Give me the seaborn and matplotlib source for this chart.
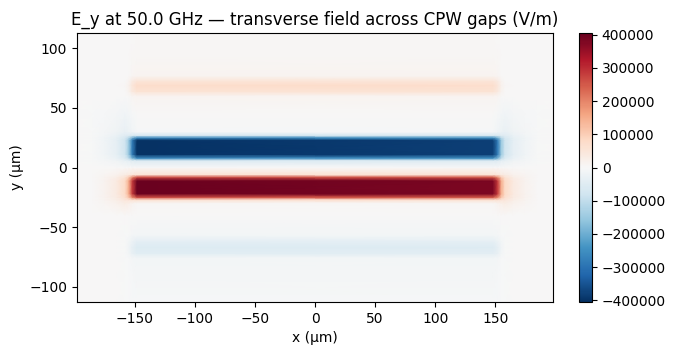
import numpy as np
import matplotlib
matplotlib.use("Agg")
import matplotlib.pyplot as plt
import seaborn as sns

# sample positions across the guide (y, um) and along it (x, um)
y_um = [-113, -90, -76, -72, -67, -62, -57, -40, -30, -27, -25, -22, -11, -8, -6,
        0, 6, 8, 11, 23, 25, 27, 30, 45, 60, 64, 69, 73, 77, 95, 113]
# E_y across the gaps inside the line (V/m)
ey_core = [-6000, -8000, -12000, -45000, -55000, -38000, -10000, 0, 5000, 70000, 260000,
           400000, 400000, 260000, 60000, 0, -60000, -260000, -400000, -400000,
           -260000, -70000, -5000, 0, 12000, 60000, 75000, 50000, 12000, 6000, 4000]
# fringing field around the line ends (V/m)
ey_fringe = [0, 0, 0, 0, 0, 0, 0, 0, 30000, 45000, 55000, 60000, 60000, 45000, 30000,
             0, -30000, -45000, -60000, -60000, -55000, -45000, -30000, -15000, 0, 0, 0, 0, 0, 0, 0]

x_um = [-200, -185, -175, -165, -158, -155, -152, -148, 148, 152, 155, 158, 165, 175, 185, 200]
env_core = [0, 0, 0, 0, 0.05, 0.25, 0.65, 1, 0.95, 0.65, 0.25, 0.05, 0, 0, 0, 0]
env_fringe = [0, 0.05, 0.25, 0.6, 1, 0.8, 0.4, 0, 0, 0.4, 0.8, 1, 0.6, 0.25, 0.05, 0]

field = np.outer(ey_core, env_core) + np.outer(ey_fringe, env_fringe)

cmap = sns.color_palette("RdBu_r", as_cmap=True)

fig = plt.figure(figsize=(6.76, 3.56), dpi=100)
ax = fig.add_axes([77 / 676, 54 / 356, 476 / 676, 269 / 356])
cax = fig.add_axes([579 / 676, 54 / 356, 13 / 676, 269 / 356])

mesh = ax.pcolormesh(x_um, y_um, field, cmap=cmap, vmin=-405000, vmax=405000,
                     shading="gouraud", antialiased=False)
ax.set_xlim(-198, 198)
ax.set_ylim(-113, 113)
ax.set_xlabel("x (µm)")
ax.set_ylabel("y (µm)")
ax.set_title("E_y at 50.0 GHz — transverse field across CPW gaps (V/m)", fontsize=12)

fig.colorbar(mesh, cax=cax)

fig.savefig("out.png", dpi=100)
